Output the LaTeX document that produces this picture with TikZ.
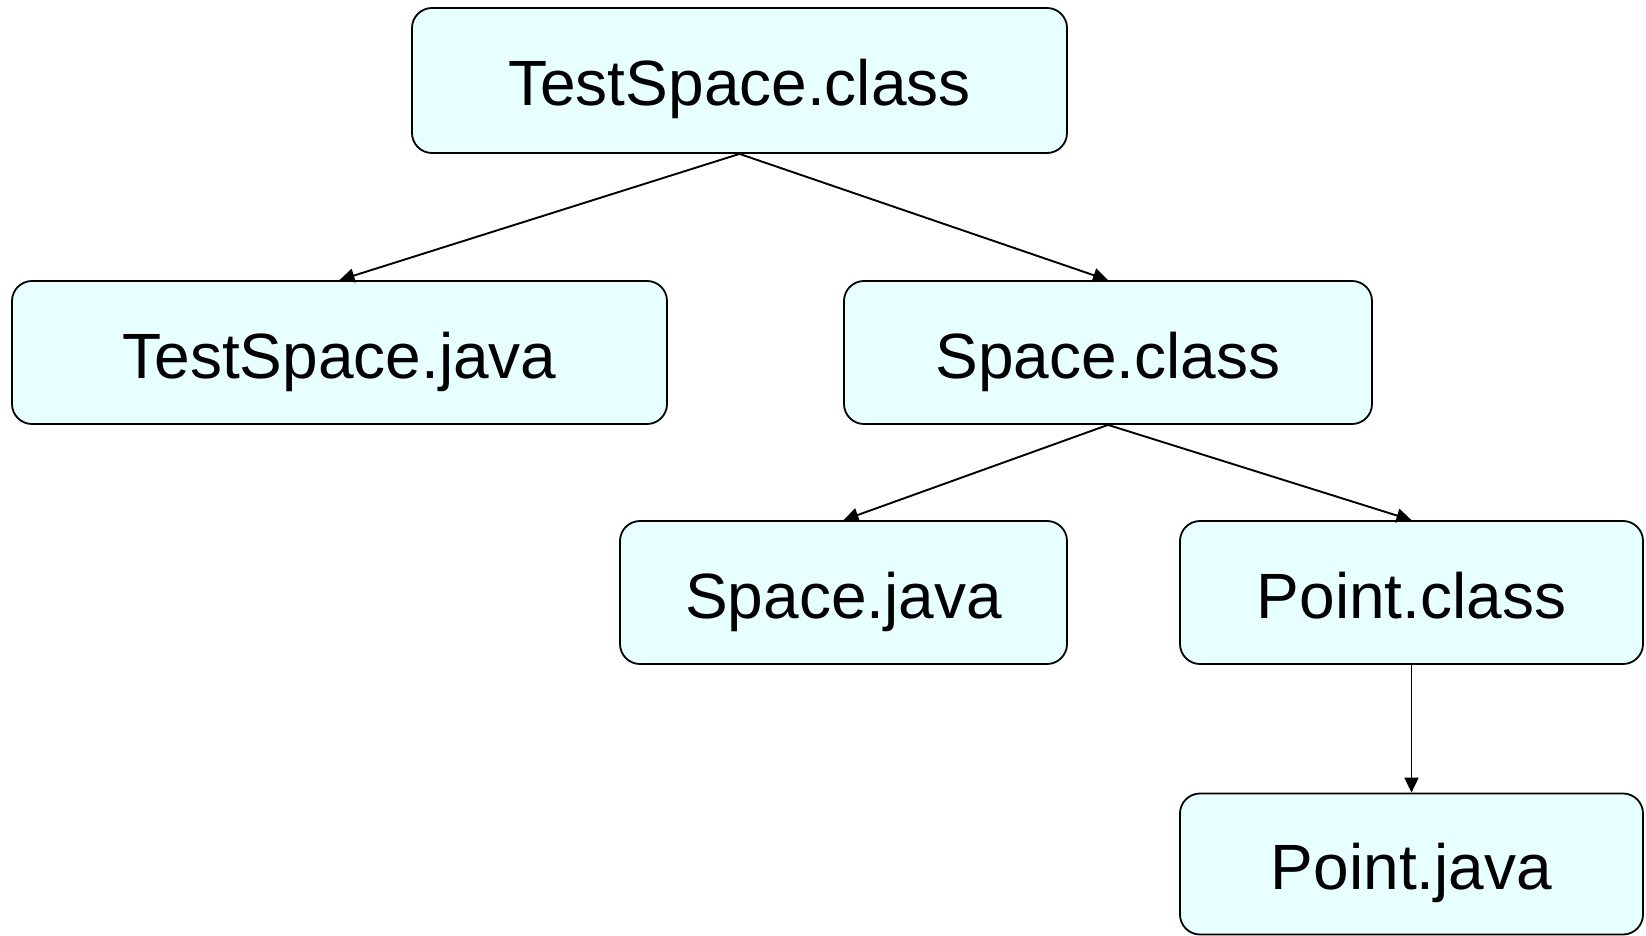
\documentclass[tikz,border=0pt]{standalone}
\usepackage{fontspec}
\setmainfont{Liberation Sans}
\usetikzlibrary{arrows.meta}
\definecolor{boxfill}{HTML}{E8FFFF}
\begin{document}
\begin{tikzpicture}[x=1pt,y=-1pt,
  filebox/.style={draw=black,line width=1.8pt,fill=boxfill,rounded corners=20pt,
    minimum height=143pt,inner sep=0pt,text height=51pt,text depth=0pt,
    font=\fontsize{64}{70}\selectfont,anchor=center},
  link/.style={line width=1.9pt,-{Triangle[length=15pt,width=14pt]}}]
\useasboundingbox (0,0) rectangle (1646,936);
\node[filebox,minimum width=655pt,minimum height=145pt] (tsc) at (739.5,80.5) {TestSpace.class};
\node[filebox,minimum width=655pt] (tsj) at (339.5,352.5) {TestSpace.java};
\node[filebox,minimum width=528pt] (sc) at (1108,352.5) {Space.class};
\node[filebox,minimum width=447pt] (sj) at (843.5,592.5) {Space.java};
\node[filebox,minimum width=463pt] (pc) at (1411.5,592.5) {Point.class};
\node[filebox,minimum width=463pt,minimum height=141pt] (pj) at (1411.5,864) {Point.java};
\draw[link] (tsc.south) -- (tsj.north);
\draw[link] (tsc.south) -- (sc.north);
\draw[link] (sc.south) -- (sj.north);
\draw[link] (sc.south) -- (pc.north);
\draw[link] (pc.south) -- (pj.north);
\end{tikzpicture}
\end{document}
